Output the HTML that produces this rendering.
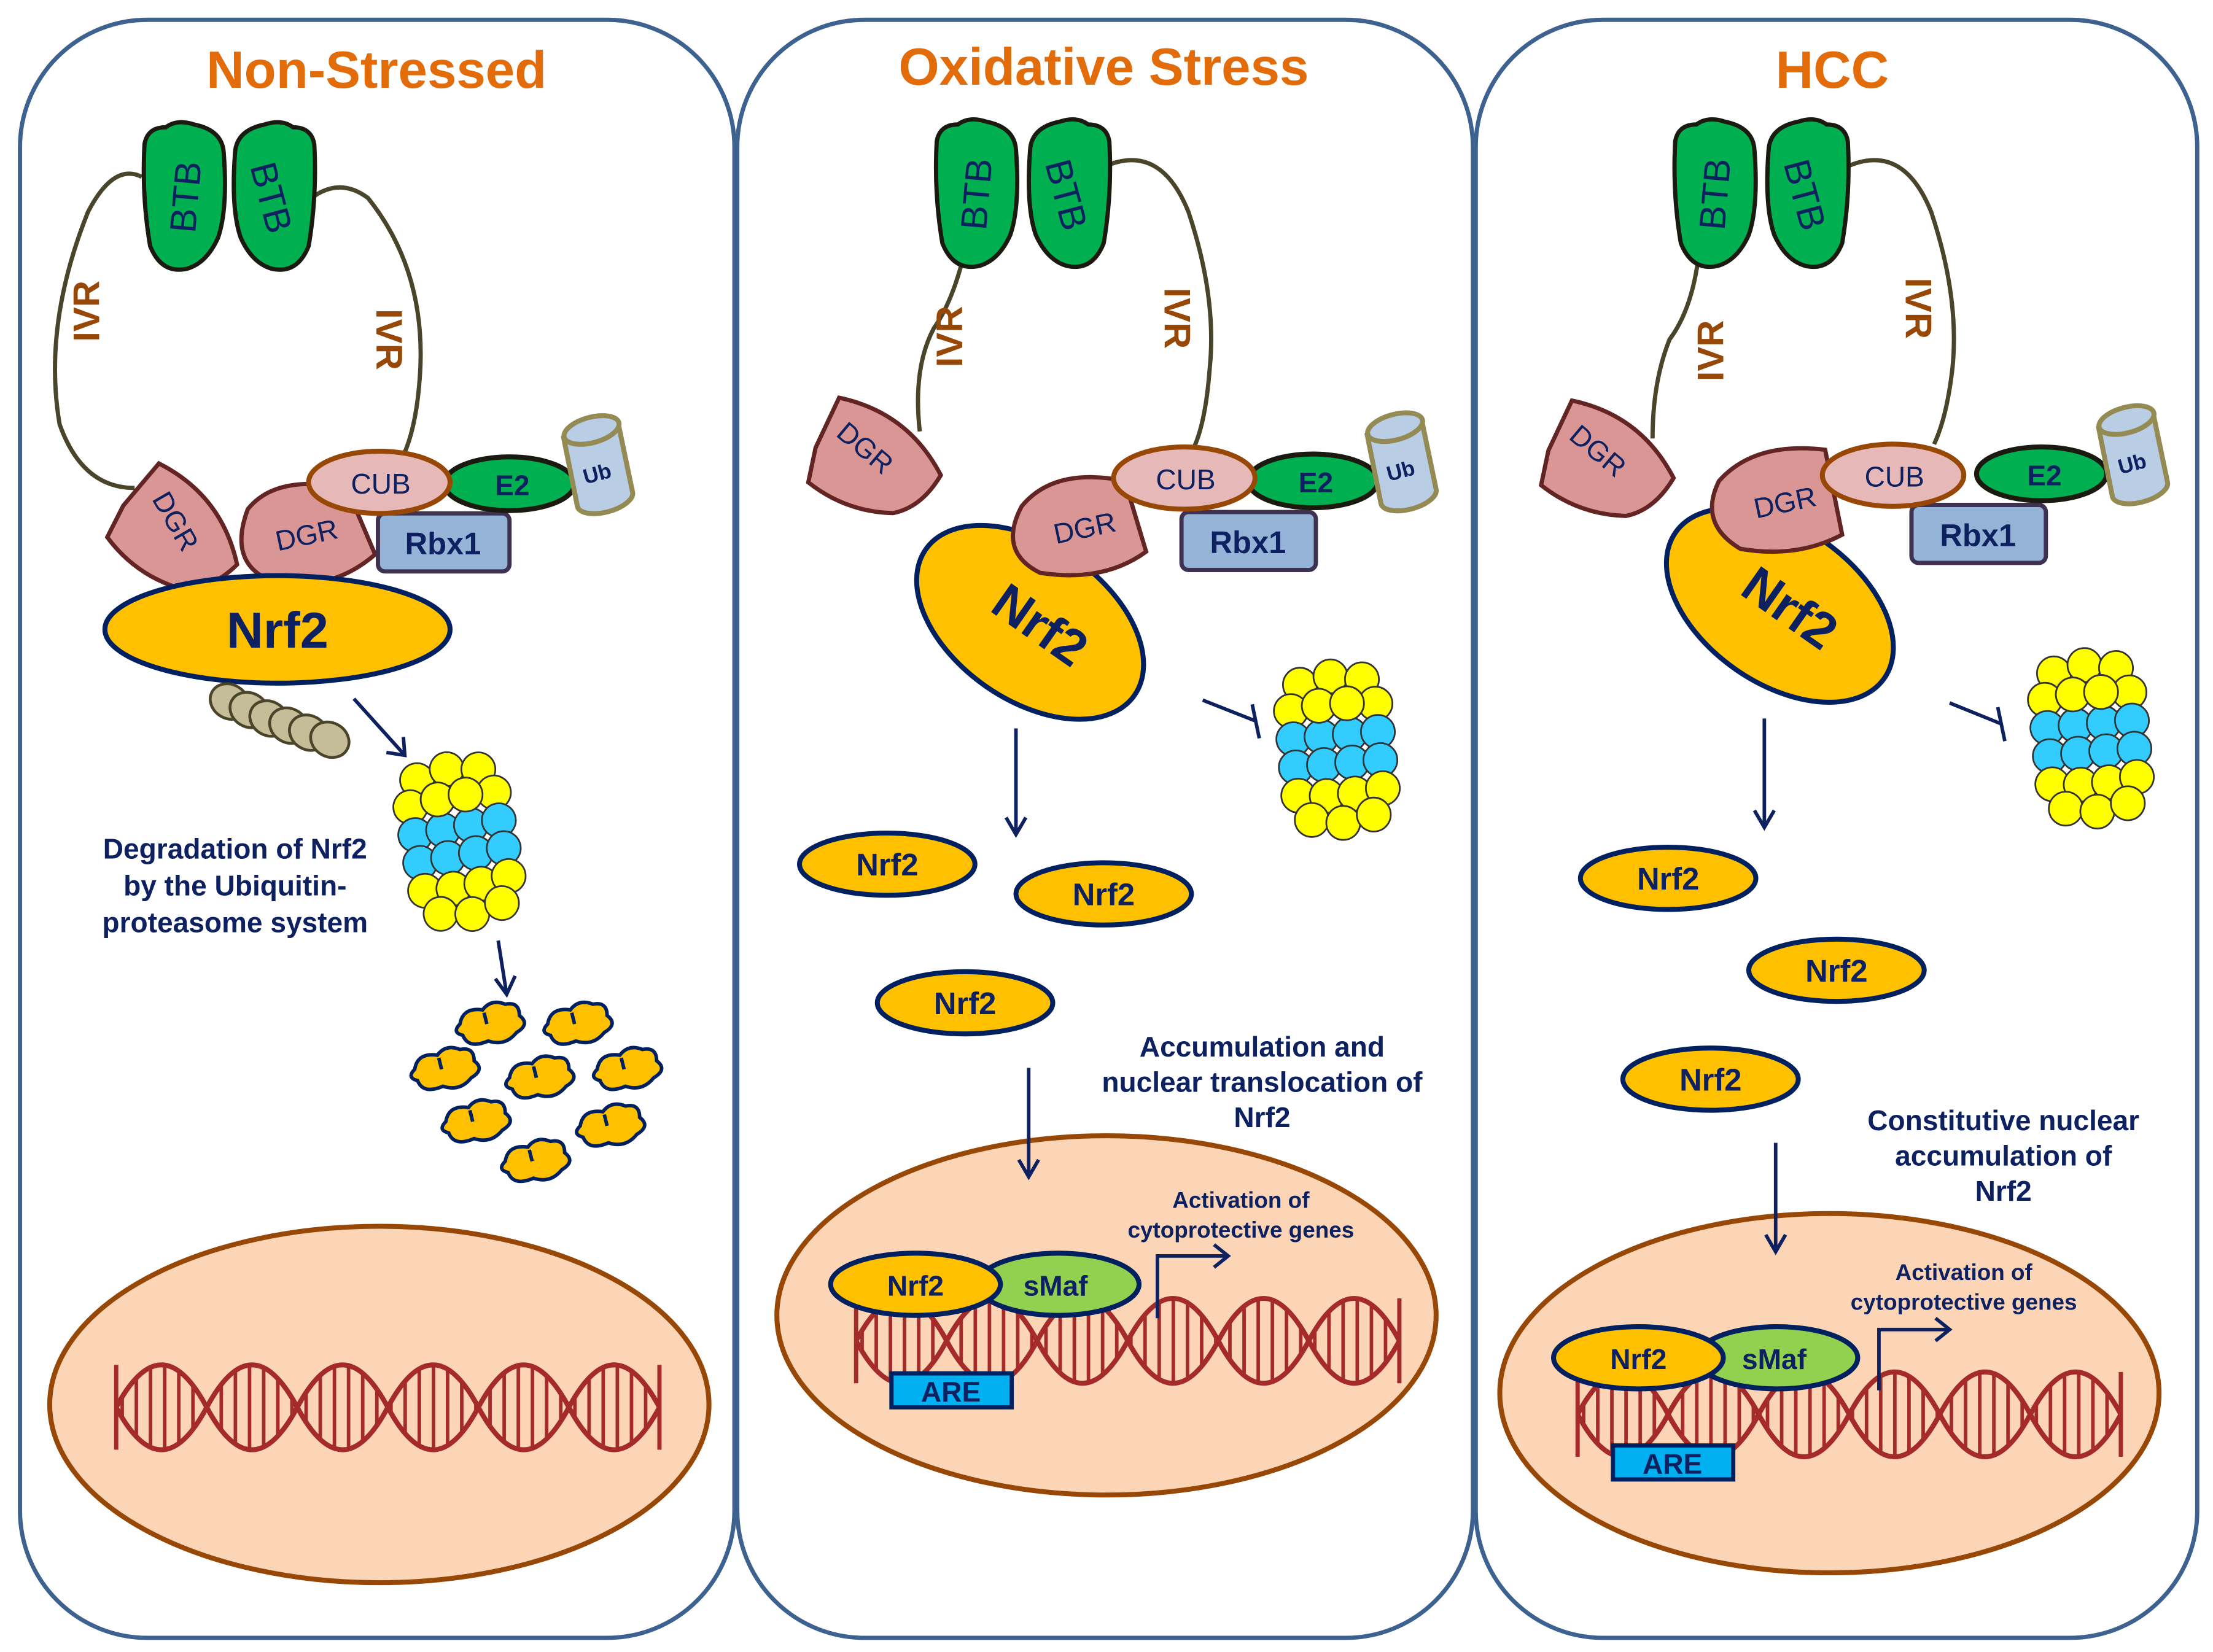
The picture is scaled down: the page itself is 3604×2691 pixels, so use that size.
<!DOCTYPE html>
<html><head><meta charset="utf-8"><style>
html,body{margin:0;padding:0;background:#fff}
svg{display:block}
text{font-family:"Liberation Sans",Arial,sans-serif;font-weight:bold;fill:#0d2060}
</style></head><body>
<svg width="3604" height="2691" viewBox="0 0 1564 1168" xmlns="http://www.w3.org/2000/svg">
<defs>
  <pattern id="rungs" width="10" height="10" patternUnits="userSpaceOnUse">
    <rect x="3" y="0" width="2.5" height="10" fill="#a52a2a"/>
  </pattern>
  <clipPath id="dnaclip">
    <path d="M0,0 q32,-60 64,0 t64,0 t64,0 t64,0 t64,0 t64,0 L384,0 q-32,-60 -64,0 t-64,0 t-64,0 t-64,0 t-64,0 t-64,0 Z"/>
  </clipPath>
  <g id="dna">
    <rect x="0" y="-35" width="385" height="70" fill="url(#rungs)" clip-path="url(#dnaclip)"/>
    <path d="M0,0 q32,-60 64,0 t64,0 t64,0 t64,0 t64,0 t64,0" fill="none" stroke="#a52a2a" stroke-width="3.5"/>
    <path d="M0,0 q32,60 64,0 t64,0 t64,0 t64,0 t64,0 t64,0" fill="none" stroke="#a52a2a" stroke-width="3.5"/>
    <line x1="0" y1="-30" x2="0" y2="30" stroke="#a52a2a" stroke-width="3"/>
    <line x1="384" y1="-30" x2="384" y2="30" stroke="#a52a2a" stroke-width="3"/>
  </g>
  <g id="prot" stroke="#333" stroke-width="1.2">
    <g fill="#ffff00">
      <circle cx="-22" cy="-50" r="12"/><circle cx="0" cy="-54" r="12"/><circle cx="22" cy="-50" r="12"/>
      <circle cx="-30" cy="-32" r="12"/><circle cx="-10" cy="-34" r="12"/><circle cx="10" cy="-34" r="12"/><circle cx="30" cy="-32" r="12"/>
    </g>
    <g fill="#33ccff">
      <circle cx="-30" cy="-12" r="12"/><circle cx="-10" cy="-12" r="12"/><circle cx="10" cy="-12" r="12"/><circle cx="30" cy="-12" r="12"/>
      <circle cx="-30" cy="8" r="12"/><circle cx="-10" cy="8" r="12"/><circle cx="10" cy="8" r="12"/><circle cx="30" cy="8" r="12"/>
    </g>
    <g fill="#ffff00">
      <circle cx="-30" cy="28" r="12"/><circle cx="-10" cy="30" r="12"/><circle cx="10" cy="30" r="12"/><circle cx="30" cy="28" r="12"/>
      <circle cx="-22" cy="46" r="12"/><circle cx="0" cy="50" r="12"/><circle cx="22" cy="46" r="12"/>
    </g>
    <circle cx="-10" cy="-34" r="12" fill="#ffff00"/><circle cx="10" cy="-34" r="12" fill="#ffff00"/>
  </g>
  <path id="btbL" d="M-28,-38 q2,-12 15,-12 q8,-6 20,-2 q20,4 21,20 q3,40 -4,60 q-8,18 -22,22 q-18,4 -26,-16 q-6,-35 -4,-72z" fill="#00b050" stroke="#1a1a10" stroke-width="3"/>
  <path id="dgr" d="M-30,-20 L0,-45 Q40,-15 42,35 Q20,50 0,45 Q-30,30 -45,0 Z" fill="#d99694" stroke="#632523" stroke-width="3"/>
  <g id="ub">
    <path d="M-22,-22 L-12,28 A20,9 -15 0 0 27,18 L17,-30" fill="#b9cde5" stroke="#948a54" stroke-width="3.5"/>
    <ellipse cx="-2" cy="-26" rx="20" ry="9" transform="rotate(-15 -2 -26)" fill="#b9cde5" stroke="#948a54" stroke-width="3.5"/>
    <text x="2" y="10" font-size="15" text-anchor="middle" transform="rotate(-15 2 5)">Ub</text>
  </g>
  <path id="frag" d="M-20,-4 q2,-12 16,-10 q6,-8 16,-4 q10,-2 10,8 q8,6 -2,12 q-8,10 -20,6 q-14,6 -18,-4 q-8,-2 -2,-8z M-3,-12 l2,8" fill="#ffc000" stroke="#002060" stroke-width="2.5"/>
</defs>

<rect x="14" y="14" width="505" height="1144" rx="90" fill="none" stroke="#3d6290" stroke-width="3"/>
<rect x="521" y="14" width="520" height="1144" rx="90" fill="none" stroke="#3d6290" stroke-width="3"/>
<rect x="1043" y="14" width="510" height="1144" rx="90" fill="none" stroke="#3d6290" stroke-width="3"/>

<text x="266" y="62" font-size="37" text-anchor="middle" style="fill:#e36c0a">Non-Stressed</text>
<text x="780" y="60" font-size="37" text-anchor="middle" style="fill:#e36c0a">Oxidative Stress</text>
<text x="1295" y="62" font-size="37" text-anchor="middle" style="fill:#e36c0a">HCC</text>

<!-- PANEL 1 -->
<path d="M100,125 Q80,115 62,150 Q30,230 42,300 Q58,345 95,345" fill="none" stroke="#4a452a" stroke-width="3"/>
<path d="M220,140 Q240,125 260,140 Q300,190 297,260 Q295,300 285,322" fill="none" stroke="#4a452a" stroke-width="3"/>
<text transform="translate(70,220) rotate(-90)" font-size="26" text-anchor="middle" style="fill:#984806">IVR</text>
<text transform="translate(266,240) rotate(90)" font-size="26" text-anchor="middle" style="fill:#984806">IVR</text>
<use href="#btbL" transform="translate(130,140)"/>
<use href="#btbL" transform="translate(194,140) scale(-1,1)"/>
<text transform="translate(140,140) rotate(-85)" font-size="26" text-anchor="middle" style="font-weight:normal">BTB</text>
<text transform="translate(183,142) rotate(75)" font-size="26" text-anchor="middle" style="font-weight:normal">BTB</text>
<use href="#dgr" transform="translate(120,372) rotate(-10)"/>
<text transform="translate(118,372) rotate(60)" font-size="20" text-anchor="middle" style="font-weight:normal">DGR</text>
<path d="M175,360 Q195,335 245,345 L265,392 Q235,418 195,412 Q160,400 175,360z" fill="#d99694" stroke="#632523" stroke-width="3"/>
<text transform="translate(218,385) rotate(-12)" font-size="20" text-anchor="middle" style="font-weight:normal">DGR</text>
<rect x="267" y="363" width="93" height="41" rx="5" fill="#95b3d7" stroke="#3f3151" stroke-width="3"/>
<text x="313" y="392" font-size="22" text-anchor="middle">Rbx1</text>
<ellipse cx="360" cy="342" rx="46" ry="19" fill="#00b050" stroke="#1a1a10" stroke-width="3.5"/>
<text x="362" y="350" font-size="20" text-anchor="middle">E2</text>
<ellipse cx="268" cy="341" rx="50" ry="22" fill="#e6b9b8" stroke="#984806" stroke-width="3.5"/>
<text x="269" y="349" font-size="20" text-anchor="middle" style="font-weight:normal">CUB</text>
<use href="#ub" transform="translate(420,330)"/>
<ellipse cx="196" cy="445" rx="122" ry="38" fill="#ffc000" stroke="#002060" stroke-width="3.5"/>
<text x="196" y="458" font-size="36" text-anchor="middle">Nrf2</text>
<g fill="#c4bd97" stroke="#4a452a" stroke-width="2">
<ellipse cx="162" cy="496" rx="12" ry="14" transform="rotate(-60 162 496)"/>
<ellipse cx="176" cy="502" rx="12" ry="14" transform="rotate(-60 176 502)"/>
<ellipse cx="190" cy="508" rx="12" ry="14" transform="rotate(-60 190 508)"/>
<ellipse cx="204" cy="513" rx="12" ry="14" transform="rotate(-60 204 513)"/>
<ellipse cx="218" cy="518" rx="12" ry="14" transform="rotate(-60 218 518)"/>
<ellipse cx="233" cy="523" rx="12" ry="14" transform="rotate(-60 233 523)"/>
</g>
<g stroke="#0d2060" stroke-width="2.5" fill="none">
<path d="M250,494 L286,534 M273,532 L286,534 L285,521"/>
<path d="M352,665 L358,703 M350,692 L358,703 L364,690"/>
</g>
<use href="#prot" transform="translate(325,597) rotate(-10)"/>
<text x="166" y="607" font-size="20" text-anchor="middle">Degradation of Nrf2</text>
<text x="166" y="633" font-size="20" text-anchor="middle">by the Ubiquitin-</text>
<text x="166" y="659" font-size="20" text-anchor="middle">proteasome system</text>
<use href="#frag" transform="translate(345,728)"/>
<use href="#frag" transform="translate(407,728)"/>
<use href="#frag" transform="translate(313,760)"/>
<use href="#frag" transform="translate(380,766)"/>
<use href="#frag" transform="translate(442,760)"/>
<use href="#frag" transform="translate(335,797)"/>
<use href="#frag" transform="translate(430,800)"/>
<use href="#frag" transform="translate(377,825)"/>
<ellipse cx="268" cy="993" rx="233" ry="126" fill="#fbd5b5" stroke="#984806" stroke-width="3.5"/>
<use href="#dna" transform="translate(82,995)"/>

<!-- PANEL 2 -->
<path d="M680,185 Q672,215 660,232 Q645,260 650,305" fill="none" stroke="#4a452a" stroke-width="3"/>
<path d="M780,118 Q820,100 840,150 Q860,210 855,260 Q852,300 843,318" fill="none" stroke="#4a452a" stroke-width="3"/>
<text transform="translate(680,238) rotate(-90)" font-size="26" text-anchor="middle" style="fill:#984806">IVR</text>
<text transform="translate(823,225) rotate(90)" font-size="26" text-anchor="middle" style="fill:#984806">IVR</text>
<use href="#btbL" transform="translate(690,138)"/>
<use href="#btbL" transform="translate(756,138) scale(-1,1)"/>
<text transform="translate(699,138) rotate(-85)" font-size="26" text-anchor="middle" style="font-weight:normal">BTB</text>
<text transform="translate(745,140) rotate(75)" font-size="26" text-anchor="middle" style="font-weight:normal">BTB</text>
<use href="#dgr" transform="translate(612,322) rotate(-25)"/>
<text transform="translate(607,322) rotate(40)" font-size="20" text-anchor="middle" style="font-weight:normal">DGR</text>
<ellipse cx="728" cy="440" rx="90" ry="55" transform="rotate(35 728 440)" fill="#ffc000" stroke="#002060" stroke-width="3.5"/>
<text transform="translate(728,452) rotate(35)" font-size="36" text-anchor="middle">Nrf2</text>
<path d="M722,358 Q745,330 795,340 L810,390 Q780,412 735,405 Q705,390 722,358z" fill="#d99694" stroke="#632523" stroke-width="3"/>
<text transform="translate(768,380) rotate(-12)" font-size="20" text-anchor="middle" style="font-weight:normal">DGR</text>
<rect x="835" y="362" width="95" height="41" rx="5" fill="#95b3d7" stroke="#3f3151" stroke-width="3"/>
<text x="882" y="391" font-size="22" text-anchor="middle">Rbx1</text>
<ellipse cx="928" cy="340" rx="46" ry="19" fill="#00b050" stroke="#1a1a10" stroke-width="3.5"/>
<text x="930" y="348" font-size="20" text-anchor="middle">E2</text>
<ellipse cx="837" cy="338" rx="50" ry="22" fill="#e6b9b8" stroke="#984806" stroke-width="3.5"/>
<text x="838" y="346" font-size="20" text-anchor="middle" style="font-weight:normal">CUB</text>
<use href="#ub" transform="translate(988,328)"/>
<g stroke="#0d2060" stroke-width="2.5" fill="none">
<path d="M850,495 L888,510 M885,498 L890,522"/>
<path d="M718,515 L718,590 M711,578 L718,590 L725,578"/>
</g>
<use href="#prot" transform="translate(945,532) rotate(-5)"/>
<ellipse cx="627" cy="611" rx="62" ry="22" fill="#ffc000" stroke="#002060" stroke-width="3.5"/>
<text x="627" y="619" font-size="22" text-anchor="middle">Nrf2</text>
<ellipse cx="780" cy="632" rx="62" ry="22" fill="#ffc000" stroke="#002060" stroke-width="3.5"/>
<text x="780" y="640" font-size="22" text-anchor="middle">Nrf2</text>
<ellipse cx="682" cy="709" rx="62" ry="22" fill="#ffc000" stroke="#002060" stroke-width="3.5"/>
<text x="682" y="717" font-size="22" text-anchor="middle">Nrf2</text>
<text x="892" y="747" font-size="20" text-anchor="middle">Accumulation and</text>
<text x="892" y="772" font-size="20" text-anchor="middle">nuclear translocation of</text>
<text x="892" y="797" font-size="20" text-anchor="middle">Nrf2</text>
<ellipse cx="782" cy="930" rx="233" ry="127" fill="#fbd5b5" stroke="#984806" stroke-width="3.5"/>
<path d="M727,755 L727,832 M720,820 L727,832 L734,820" stroke="#0d2060" stroke-width="2.5" fill="none"/>
<use href="#dna" transform="translate(605,948)"/>
<rect x="630" y="971" width="85" height="24" fill="#00b0f0" stroke="#002060" stroke-width="3"/>
<text x="672" y="991" font-size="20" text-anchor="middle">ARE</text>
<ellipse cx="748" cy="908" rx="57" ry="22" fill="#92d050" stroke="#002060" stroke-width="3.5"/>
<text x="746" y="916" font-size="20" text-anchor="middle">sMaf</text>
<ellipse cx="647" cy="908" rx="60" ry="22" fill="#ffc000" stroke="#002060" stroke-width="3.5"/>
<text x="647" y="916" font-size="20" text-anchor="middle">Nrf2</text>
<path d="M818,932 L818,888 L868,888 M858,880 L868,888 L858,896" stroke="#0d2060" stroke-width="2.5" fill="none"/>
<text x="877" y="854" font-size="16" text-anchor="middle">Activation of</text>
<text x="877" y="875" font-size="16" text-anchor="middle">cytoprotective genes</text>

<!-- PANEL 3 -->
<path d="M1200,185 Q1195,220 1180,240 Q1168,270 1168,310" fill="none" stroke="#4a452a" stroke-width="3"/>
<path d="M1305,118 Q1345,100 1365,150 Q1385,210 1380,260 Q1376,295 1367,314" fill="none" stroke="#4a452a" stroke-width="3"/>
<text transform="translate(1218,248) rotate(-90)" font-size="26" text-anchor="middle" style="fill:#984806">IVR</text>
<text transform="translate(1347,218) rotate(90)" font-size="26" text-anchor="middle" style="fill:#984806">IVR</text>
<use href="#btbL" transform="translate(1212,138)"/>
<use href="#btbL" transform="translate(1278,138) scale(-1,1)"/>
<text transform="translate(1221,138) rotate(-85)" font-size="26" text-anchor="middle" style="font-weight:normal">BTB</text>
<text transform="translate(1267,140) rotate(75)" font-size="26" text-anchor="middle" style="font-weight:normal">BTB</text>
<use href="#dgr" transform="translate(1130,324) rotate(-25)"/>
<text transform="translate(1125,324) rotate(40)" font-size="20" text-anchor="middle" style="font-weight:normal">DGR</text>
<ellipse cx="1258" cy="428" rx="90" ry="55" transform="rotate(35 1258 428)" fill="#ffc000" stroke="#002060" stroke-width="3.5"/>
<text transform="translate(1258,440) rotate(35)" font-size="36" text-anchor="middle">Nrf2</text>
<path d="M1215,340 Q1240,312 1290,318 L1302,378 Q1270,395 1230,388 Q1200,370 1215,340z" fill="#d99694" stroke="#632523" stroke-width="3"/>
<text transform="translate(1263,362) rotate(-12)" font-size="20" text-anchor="middle" style="font-weight:normal">DGR</text>
<rect x="1351" y="357" width="95" height="41" rx="5" fill="#95b3d7" stroke="#3f3151" stroke-width="3"/>
<text x="1398" y="386" font-size="22" text-anchor="middle">Rbx1</text>
<ellipse cx="1443" cy="335" rx="46" ry="19" fill="#00b050" stroke="#1a1a10" stroke-width="3.5"/>
<text x="1445" y="343" font-size="20" text-anchor="middle">E2</text>
<ellipse cx="1338" cy="336" rx="50" ry="22" fill="#e6b9b8" stroke="#984806" stroke-width="3.5"/>
<text x="1339" y="344" font-size="20" text-anchor="middle" style="font-weight:normal">CUB</text>
<use href="#ub" transform="translate(1505,323)"/>
<g stroke="#0d2060" stroke-width="2.5" fill="none">
<path d="M1378,497 L1415,512 M1412,500 L1417,524"/>
<path d="M1247,508 L1247,585 M1240,573 L1247,585 L1254,573"/>
</g>
<use href="#prot" transform="translate(1478,524) rotate(-5)"/>
<ellipse cx="1179" cy="621" rx="62" ry="22" fill="#ffc000" stroke="#002060" stroke-width="3.5"/>
<text x="1179" y="629" font-size="22" text-anchor="middle">Nrf2</text>
<ellipse cx="1298" cy="686" rx="62" ry="22" fill="#ffc000" stroke="#002060" stroke-width="3.5"/>
<text x="1298" y="694" font-size="22" text-anchor="middle">Nrf2</text>
<ellipse cx="1209" cy="763" rx="62" ry="22" fill="#ffc000" stroke="#002060" stroke-width="3.5"/>
<text x="1209" y="771" font-size="22" text-anchor="middle">Nrf2</text>
<text x="1416" y="799" font-size="20" text-anchor="middle">Constitutive nuclear</text>
<text x="1416" y="824" font-size="20" text-anchor="middle">accumulation of</text>
<text x="1416" y="849" font-size="20" text-anchor="middle">Nrf2</text>
<ellipse cx="1293" cy="985" rx="233" ry="127" fill="#fbd5b5" stroke="#984806" stroke-width="3.5"/>
<path d="M1255,808 L1255,885 M1248,873 L1255,885 L1262,873" stroke="#0d2060" stroke-width="2.5" fill="none"/>
<use href="#dna" transform="translate(1115,1000)"/>
<rect x="1140" y="1022" width="85" height="24" fill="#00b0f0" stroke="#002060" stroke-width="3"/>
<text x="1182" y="1042" font-size="20" text-anchor="middle">ARE</text>
<ellipse cx="1256" cy="960" rx="57" ry="22" fill="#92d050" stroke="#002060" stroke-width="3.5"/>
<text x="1254" y="968" font-size="20" text-anchor="middle">sMaf</text>
<ellipse cx="1158" cy="960" rx="60" ry="22" fill="#ffc000" stroke="#002060" stroke-width="3.5"/>
<text x="1158" y="968" font-size="20" text-anchor="middle">Nrf2</text>
<path d="M1328,983 L1328,940 L1378,940 M1368,932 L1378,940 L1368,948" stroke="#0d2060" stroke-width="2.5" fill="none"/>
<text x="1388" y="905" font-size="16" text-anchor="middle">Activation of</text>
<text x="1388" y="926" font-size="16" text-anchor="middle">cytoprotective genes</text>
</svg>
</body></html>
